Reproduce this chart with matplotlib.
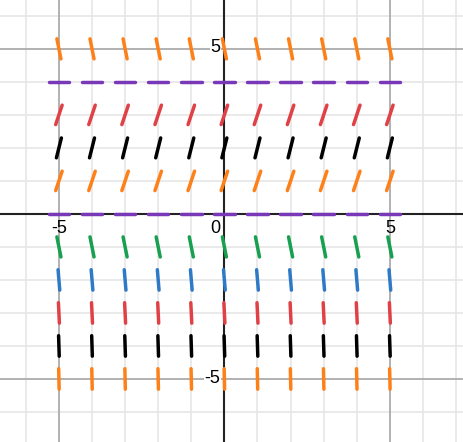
import numpy as np
import matplotlib
matplotlib.use('Agg')
import matplotlib.pyplot as plt
from matplotlib.collections import LineCollection

# slope field: one row of short segments per y value, x = -5..5
x_vals = [-5, -4, -3, -2, -1, 0, 1, 2, 3, 4, 5]
y_rows = [5, 4, 3, 2, 1, 0, -1, -2, -3, -4, -5]
slopes = [-5, 0, 3, 4, 3, 0, -5, -12, -21, -32, -45]
row_colors = ['#fd8019', '#7838b8', '#e04146', '#000000', '#fd8019', '#7838b8',
              '#17a050', '#2f7ac6', '#e04146', '#000000', '#fd8019']

half_len = 0.31

fig = plt.figure(figsize=(4.63, 4.42), dpi=100)
ax = fig.add_axes([0, 0, 1, 1])
ax.set_xlim(-6.78, 7.21)
ax.set_ylim(-6.91, 6.48)

# grid
for g in range(-6, 8):
    ax.axvline(g, color='#e6e6e6', lw=1.2, zorder=0)
for g in range(-6, 7):
    ax.axhline(g, color='#e6e6e6', lw=1.2, zorder=0)
for g in (-5, 5):
    ax.axvline(g, color='#a8a8a8', lw=1.2, zorder=1)
    ax.axhline(g, color='#a8a8a8', lw=1.2, zorder=1)
ax.axvline(0, color='#222222', lw=1.5, zorder=2)
ax.axhline(0, color='#222222', lw=1.5, zorder=2)

# segments
for y, m, c in zip(y_rows, slopes, row_colors):
    dx = half_len / np.sqrt(1 + m ** 2)
    dy = m * dx
    segs = [[(x - dx, y - dy), (x + dx, y + dy)] for x in x_vals]
    lc = LineCollection(segs, colors=c, linewidths=2.5, capstyle='round', zorder=3)
    ax.add_collection(lc)

# tick labels
box = dict(facecolor='white', edgecolor='none', pad=0.5)
font = dict(fontsize=13, family='Liberation Sans', color='black', zorder=2.5)
ax.text(-5, -0.18, '-5', ha='center', va='top', **font)
ax.text(5, -0.18, '5', ha='center', va='top', **font)
ax.text(-0.12, -0.18, '0', ha='right', va='top', **font)
ax.text(-0.12, 5.05, '5', ha='right', va='center', bbox=box, **font)
ax.text(-0.12, -5.0, '-5', ha='right', va='center', bbox=box, **font)

ax.set_axis_off()
fig.savefig('out.png', dpi=100)
